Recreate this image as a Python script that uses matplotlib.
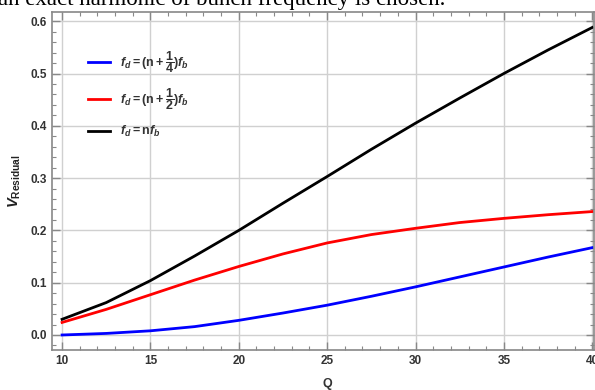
import matplotlib
matplotlib.use("Agg")
import matplotlib.pyplot as plt
from matplotlib.ticker import MultipleLocator

# values
q = [10, 12.5, 15, 17.5, 20, 22.5, 25, 27.5, 30, 32.5, 35, 37.5, 40]
v_quarter = [0.000, 0.003, 0.008, 0.016, 0.028, 0.042, 0.057, 0.074, 0.092, 0.111, 0.130, 0.149, 0.167]
v_half = [0.024, 0.049, 0.077, 0.105, 0.131, 0.155, 0.176, 0.192, 0.204, 0.215, 0.223, 0.230, 0.236]
v_harm = [0.030, 0.062, 0.104, 0.151, 0.200, 0.252, 0.303, 0.355, 0.405, 0.453, 0.500, 0.545, 0.588]

labels = [r'$f_d\mathrm{=(n+}\dfrac{1}{4}\mathrm{)}f_b$',
          r'$f_d\mathrm{=(n+}\dfrac{1}{2}\mathrm{)}f_b$',
          r'$f_d\mathrm{=n}f_b$']

plt.rcParams['font.family'] = ['Liberation Sans', 'DejaVu Sans']
plt.rcParams['mathtext.fontset'] = 'custom'
plt.rcParams['mathtext.rm'] = 'Liberation Sans:bold'
plt.rcParams['mathtext.it'] = 'Liberation Sans:bold:italic'
plt.rcParams['mathtext.bf'] = 'Liberation Sans:bold'

W, H = 595, 390
fig = plt.figure(figsize=(W / 100, H / 100), dpi=100)
ax = fig.add_axes([52 / W, 40 / H, 542 / W, 338 / H])

ax.plot(q, v_quarter, color='#0000ff', lw=2, label=labels[0])
ax.plot(q, v_half, color='#ff0000', lw=2, label=labels[1])
ax.plot(q, v_harm, color='#000000', lw=2, label=labels[2])

ax.set_xlim(9.43, 40.1)
ax.set_ylim(-0.0287, 0.6176)
ax.xaxis.set_major_locator(MultipleLocator(5))
ax.xaxis.set_minor_locator(MultipleLocator(1))
ax.yaxis.set_major_locator(MultipleLocator(0.1))
ax.yaxis.set_minor_locator(MultipleLocator(0.02))
ax.grid(True, which='major', color='#d0d0d0', lw=1)
ax.set_axisbelow(True)

for s in ax.spines.values():
    s.set_color('#888888')
    s.set_linewidth(1.2)
ax.tick_params(which='both', direction='in', top=True, right=True,
               color='#888888', labelsize=8.5, labelcolor='#333333')
ax.tick_params(which='major', length=6, width=1)
ax.tick_params(which='minor', length=3, width=0.8)
for t in ax.get_xticklabels():
    t.set_fontweight('bold')
ax.set_yticks([0.0, 0.1, 0.2, 0.3, 0.4, 0.5, 0.6])
ax.set_yticklabels(['0.0', '0.1', '0.2', '0.3', '0.4', '0.5', '0.6'], fontweight='bold')

leg = ax.legend(loc='upper left', bbox_to_anchor=(0.045, 0.925), frameon=False,
                handlelength=1.8, labelspacing=0.95, fontsize=9)
for t in leg.get_texts():
    t.set_color('#333333')

fig.text(15 / W, 1 - 181 / H, r'$V_{\mathrm{Residual}}$', rotation=90,
         ha='center', va='center', fontsize=10.5, color='#222222')
fig.text(327 / W, 1 - 384 / H, 'Q', ha='center', va='center',
         fontsize=9, fontweight='bold', color='#333333')

# cut-off caption from the page above the chart
fig.text(-0.003, 1 - 5 / H, 'an exact harmonic of bunch frequency is chosen.',
         family='Liberation Serif', fontsize=16.5, va='baseline', ha='left')

fig.savefig('out.png', dpi=100)
